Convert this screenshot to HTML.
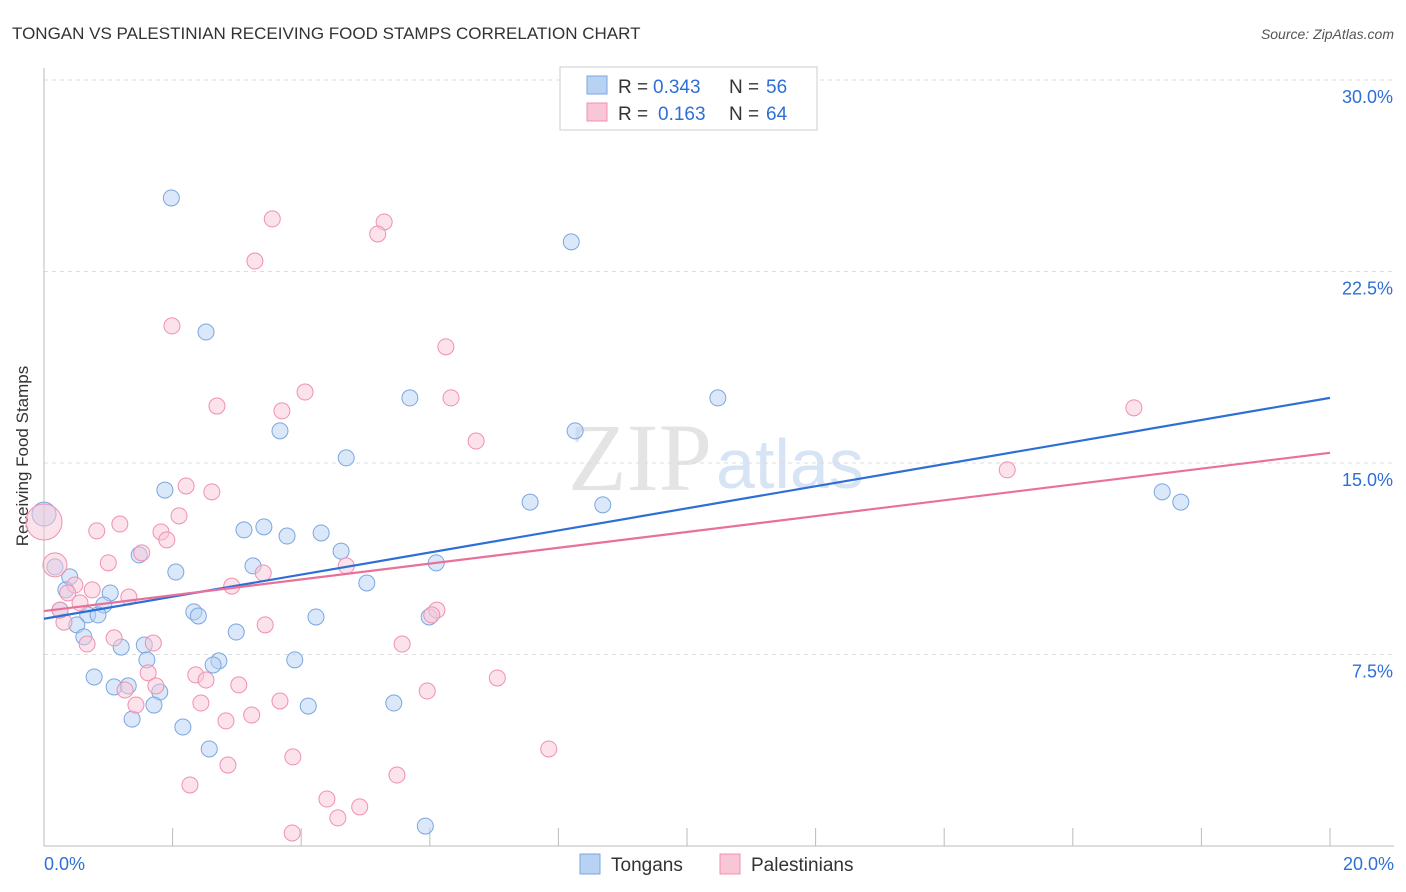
<!DOCTYPE html>
<html><head><meta charset="utf-8"><style>
body{margin:0;background:#fff;font-family:"Liberation Sans",sans-serif;}
#c{position:relative;width:1406px;height:892px;overflow:hidden;}
</style></head><body>
<div id="c">
<svg id="s" width="1406" height="892" xmlns="http://www.w3.org/2000/svg">
<text x="12" y="39" font-size="17" fill="#333">TONGAN VS PALESTINIAN RECEIVING FOOD STAMPS CORRELATION CHART</text>
<text x="1394" y="39" font-size="14" fill="#555" font-style="italic" text-anchor="end">Source: ZipAtlas.com</text>
<text x="28" y="456" font-size="17" fill="#333" text-anchor="middle" transform="rotate(-90 28 456)">Receiving Food Stamps</text>
<text x="712" y="490" font-size="96" fill="#e4e4e4" text-anchor="end" font-family="Liberation Serif,serif">ZIP</text>
<text x="716" y="488" font-size="70" fill="#d6e4f5">atlas</text>
<g id="grid"></g><g id="pts"></g><g id="lines"></g>
<g>
<rect x="560" y="67" width="257" height="63" fill="#fff" stroke="#ccc"/>
<rect x="587" y="76" width="20" height="18" fill="#b8d2f4" stroke="#7aa6e0"/>
<rect x="587" y="103" width="20" height="18" fill="#f9c6d6" stroke="#f090b0"/>
<g font-size="19">
<text x="618" y="93" fill="#333">R =</text><text x="653" y="93" fill="#2e6fd6">0.343</text>
<text x="729" y="93" fill="#333">N =</text><text x="766" y="93" fill="#2e6fd6">56</text></g>
<g font-size="19">
<text x="618" y="120" fill="#333">R =</text><text x="658" y="120" fill="#2e6fd6">0.163</text>
<text x="729" y="120" fill="#333">N =</text><text x="766" y="120" fill="#2e6fd6">64</text></g>
</g>
<g>
<rect x="580" y="854" width="20" height="20" fill="#b8d2f4" stroke="#7aa6e0"/>
<text x="611" y="871" font-size="19" fill="#333">Tongans</text>
<rect x="720" y="854" width="20" height="20" fill="#f9c6d6" stroke="#f090b0"/>
<text x="751" y="871" font-size="19" fill="#333">Palestinians</text>
</g>
</svg></div>
<script>
const yTicks=[7.5,15,22.5,30];
const yTickLabels=["7.5%","15.0%","22.5%","30.0%"];
const xTicks=[0,2,4,6,8,10,12,14,16,18,20];
const tongX=[1.98,2.52,8.20,5.69,10.48,3.67,8.26,4.70,1.88,7.56,8.69,17.39,17.68,3.11,3.42,3.78,4.31,4.62,1.48,6.10,3.25,2.05,5.02,0.40,0.17,0.34,1.03,0.93,0.68,0.84,0.51,2.33,2.40,4.23,5.99,0.62,2.99,1.56,1.20,1.60,3.90,2.72,2.63,0.78,1.09,1.31,1.80,1.71,4.11,5.44,1.37,2.16,2.57,5.93,0,0.25];
const tongY=[25.38,20.13,23.66,17.55,17.55,16.26,16.26,15.20,13.94,13.47,13.36,13.87,13.47,12.38,12.50,12.14,12.26,11.55,11.40,11.09,10.97,10.73,10.30,10.54,10.93,10.03,9.91,9.44,9.05,9.05,8.66,9.17,9.01,8.97,8.97,8.19,8.38,7.87,7.79,7.29,7.29,7.25,7.09,6.62,6.23,6.27,6.03,5.52,5.48,5.60,4.97,4.66,3.80,0.78,13.00,9.24];
const palX=[3.55,5.29,5.19,3.28,1.99,6.25,4.06,6.33,2.69,3.70,6.72,16.95,14.98,2.21,2.61,2.10,1.18,0.82,1.82,1.91,1.52,1.00,4.70,3.41,2.92,0.48,0.75,0.37,1.32,0.56,6.11,6.03,0.31,3.44,1.09,0.67,1.70,5.57,2.36,2.52,1.62,3.03,1.26,1.74,7.05,5.96,3.67,2.44,1.43,3.23,2.83,3.87,7.85,2.86,5.49,2.27,4.40,4.91,4.57,3.86,0,0.17,0.25];
const palY=[24.56,24.44,23.97,22.91,20.37,19.55,17.78,17.55,17.23,17.04,15.86,17.16,14.73,14.10,13.87,12.93,12.61,12.34,12.30,11.99,11.48,11.09,10.97,10.69,10.18,10.22,10.03,9.91,9.75,9.52,9.24,9.05,8.77,8.66,8.15,7.91,7.95,7.91,6.70,6.50,6.78,6.31,6.11,6.27,6.58,6.07,5.68,5.60,5.52,5.13,4.90,3.49,3.80,3.17,2.78,2.39,1.84,1.53,1.10,0.51,12.69,11.01,9.24];
const tongLine=[8.9,17.55];
const palLine=[9.2,15.4];
const X=v=>44+v*(1286/20), Y=v=>846-v*(766/30);
const NS="http://www.w3.org/2000/svg";
function mk(t,a,p){const e=document.createElementNS(NS,t);for(const k in a)e.setAttribute(k,a[k]);p.appendChild(e);return e;}
const g=document.getElementById('grid');
yTicks.forEach((v,i)=>{
 const l=mk('line',{x1:44,x2:1394,y1:Y(v),y2:Y(v),stroke:'#ddd','stroke-dasharray':'4 4'},g);
 
 
 const t=mk('text',{x:1393,y:Y(v)+23,'font-size':18,fill:'#2e6fd6','text-anchor':'end'},g);t.textContent=yTickLabels[i];
 
 
});
const ax=mk('line',{x1:44,x2:1394,y1:846,y2:846,stroke:'#bbb'},g);


const ay=mk('line',{x1:44,x2:44,y1:68,y2:846,stroke:'#bbb'},g);


xTicks.forEach(v=>{const t=mk('line',{x1:X(v),x2:X(v),y1:828,y2:846,stroke:'#bbb'},g);
 
 });
const xl=mk('text',{x:44,y:870,'font-size':18,fill:'#2e6fd6'},g);xl.textContent='0.0%';


const xr=mk('text',{x:1394,y:870,'font-size':18,fill:'#2e6fd6','text-anchor':'end'},g);xr.textContent='20.0%';


const P=document.getElementById('pts');
function pts(xs,ys,fill,stroke,name,bigFrom){
 xs.forEach((x,i)=>{const r=(i>=bigFrom&&i<xs.length-1)?(name==='palestinian-point'&&i===bigFrom?18:12):8;
  const c=mk('circle',{cx:X(x),cy:Y(ys[i]),r:r,fill:fill,'fill-opacity':0.5,stroke:stroke,'stroke-width':1},P);
  
  });
}
pts(tongX,tongY,'#b8d2f4','#7aa6e0','tongan-point',54);
pts(palX,palY,'#f9c6d6','#f090b0','palestinian-point',60);
const L=document.getElementById('lines');
const l1=mk('line',{x1:X(0),y1:Y(tongLine[0]),x2:X(20),y2:Y(tongLine[1]),stroke:'#2e6fd6','stroke-width':2.2},L);


const l2=mk('line',{x1:X(0),y1:Y(palLine[0]),x2:X(20),y2:Y(palLine[1]),stroke:'#e8709a','stroke-width':2.2},L);


</script>
</body></html>
